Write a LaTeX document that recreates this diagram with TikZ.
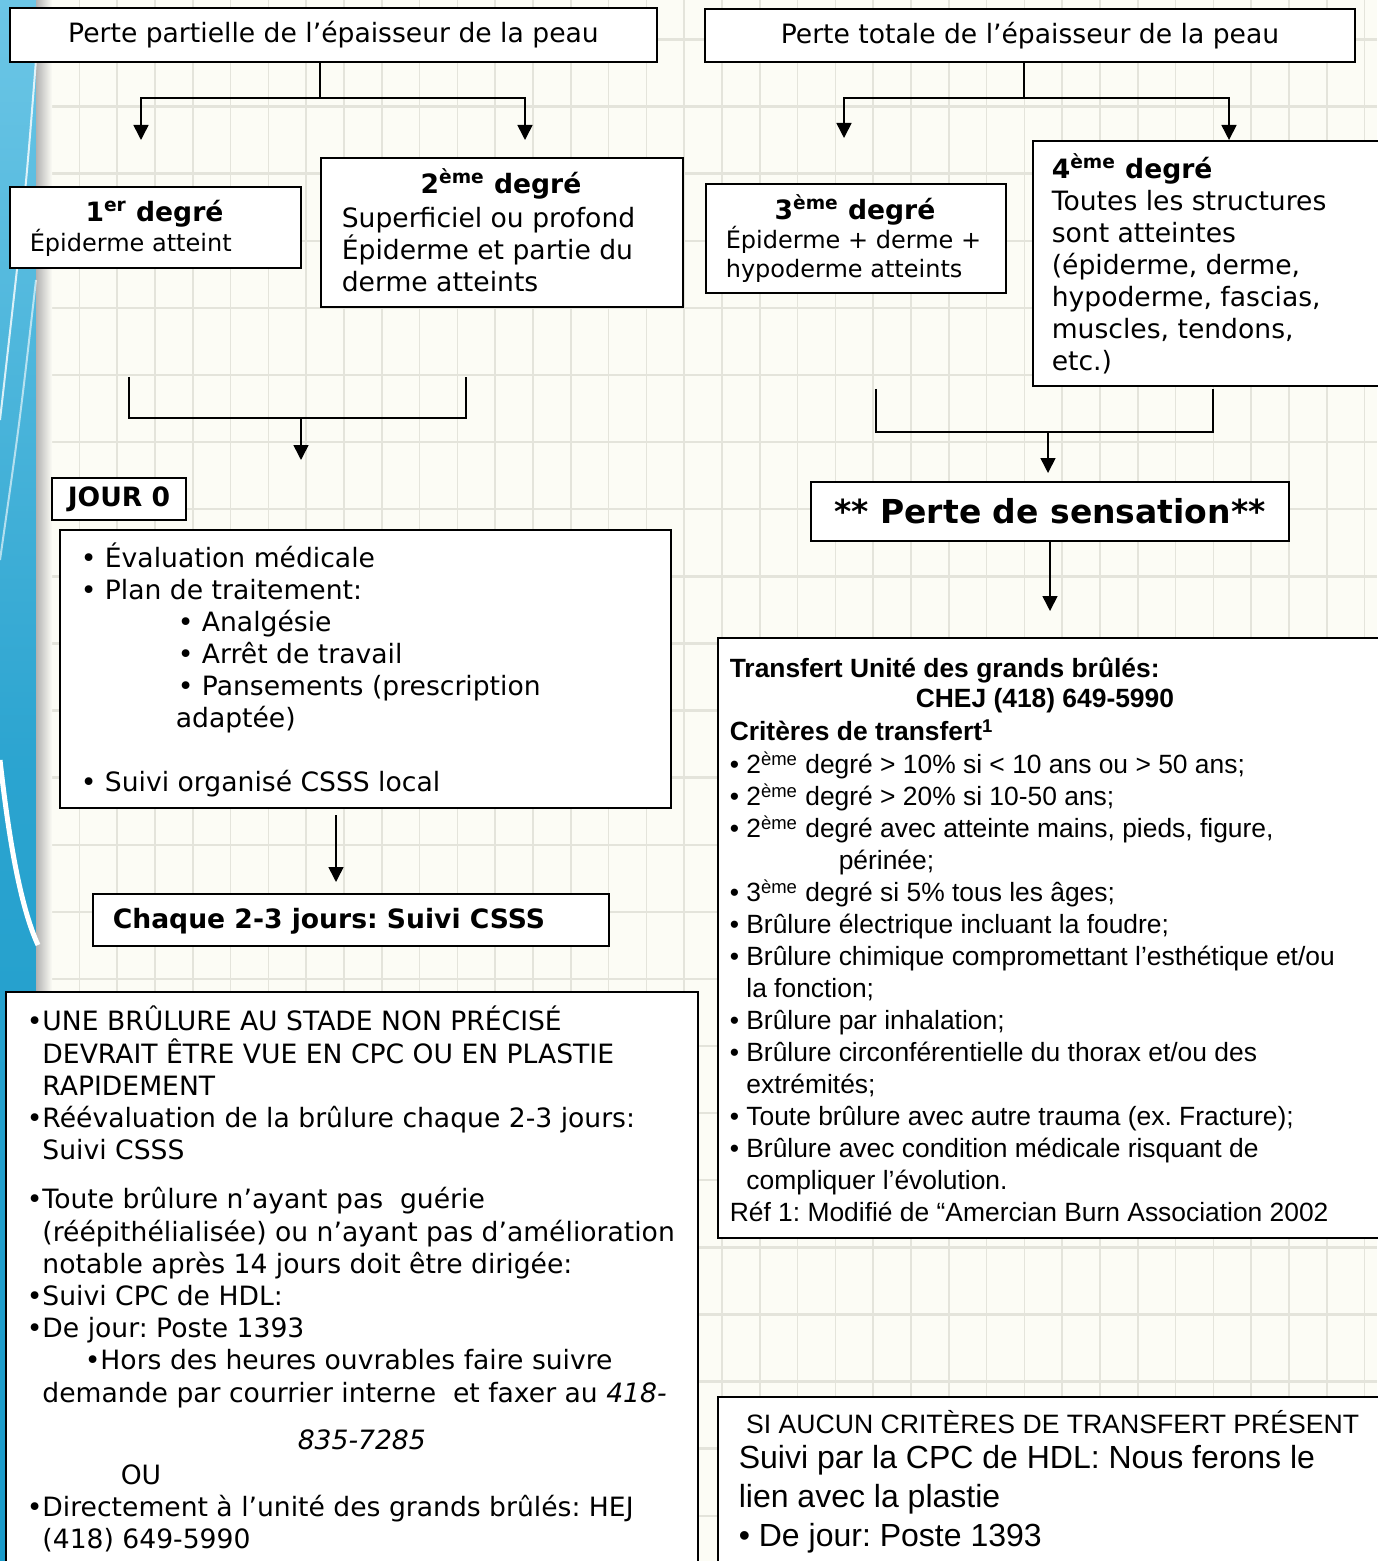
\documentclass[tikz,border=0pt]{standalone}
\usepackage{fontspec}
\setmainfont{DejaVu Sans}
\newfontfamily\arialfont{Liberation Sans}
\usetikzlibrary{arrows.meta}
\definecolor{papier}{HTML}{FCFCF5}
\definecolor{grille}{HTML}{E4E4DB}
\definecolor{bleu}{HTML}{1A9BCA}
\definecolor{bleuclair}{HTML}{6CC6E6}
\frenchspacing

\begin{document}
\begin{tikzpicture}[x=0.5pt, y=-0.5pt, >={Triangle[width=7.5pt,length=7.5pt]}, line width=0.8pt,
  boite/.style={draw, line width=1pt, fill=white, inner sep=0pt, anchor=north west},
  texte/.style={inner sep=0pt, anchor=north west, align=left},
  verd/.style={font=\fontsize{13.3}{16}\selectfont},
  verdp/.style={font=\fontsize{12}{14.5}\selectfont},
  ari/.style={font=\arialfont\fontsize{13.2}{16}\selectfont}]
\useasboundingbox (0,0) rectangle (1377,1561);
\fill[papier] (0,0) rectangle (1377,1561);
\foreach \i in {0,...,36}
  \draw[grille, line width=0.8pt] (3.8+37.8*\i,0) -- (3.8+37.8*\i,1561);
\foreach \j in {0,...,23}
  \draw[grille, line width=1.2pt] (0,39.5+67.1*\j) -- (1377,39.5+67.1*\j);
\shade[top color=bleuclair, bottom color=bleu, middle color=bleu!80!bleuclair] (0,0) rectangle (36,1561);
\shade[left color=black!30, right color=papier] (36,0) rectangle (52,1561);
\draw[white, line width=1pt, opacity=0.8] (36,60) .. controls (25,200) .. (0,420);
\draw[white, line width=1pt, opacity=0.6] (36,280) .. controls (20,420) .. (0,560);
\draw[white, line width=2.5pt] (0,760) .. controls (10,850) and (22,910) .. (38,945);

\node[boite, verd, minimum width=323.5pt, minimum height=27pt] (titreG) at (9,7) {Perte partielle de l’épaisseur de la peau};
\node[boite, minimum width=145.5pt, minimum height=40.5pt] (deg1) at (9,186) {};
\node[verd, inner sep=0pt, anchor=base] (deg1titre) at (154.5,222) {\textbf{1\textsuperscript{er} degré}};
\node[verdp, inner sep=0pt, anchor=base west] (deg1texte) at (29,252) {Épiderme atteint};
\node[boite, minimum width=181pt, minimum height=74.5pt] (deg2) at (320,157) {};
\node[verd, inner sep=0pt, anchor=base] (deg2titre) at (501,194) {\textbf{2\textsuperscript{ème} degré}};
\node[texte, verd] (deg2texte) at (341,201) {\rule{0pt}{13pt}Superficiel ou profond\\Épiderme et partie du\\derme atteints};
\node[boite, verd, minimum width=67pt, minimum height=21pt] (jour) at (51,477) {\textbf{JOUR 0}};
\node[boite, minimum width=305.5pt, minimum height=139pt] (jourliste) at (59,529) {};
\node[texte, verd] (jourtexte) at (80,541) {\rule{0pt}{13pt}• Évaluation médicale\\
  • Plan de traitement:\\
  \hspace*{48.5pt}• Analgésie\\
  \hspace*{48.5pt}• Arrêt de travail\\
  \hspace*{48.5pt}• Pansements (prescription\\
  \hspace*{47.5pt}adaptée)\\[16pt]
  • Suivi organisé CSSS local};
\node[boite, minimum width=258pt, minimum height=26pt] (suivi) at (92,893) {};
\node[verd, inner sep=0pt, anchor=base west] (suivitexte) at (112,928) {\textbf{Chaque 2-3 jours: Suivi CSSS}};
\node[boite, minimum width=346pt, minimum height=300pt] (noteG) at (5,991) {};
\node[texte, font=\fontsize{13.3}{16.1}\selectfont] (noteGtexte) at (26,1004) {\rule{0pt}{13pt}•UNE BRÛLURE AU STADE NON PRÉCISÉ\\
  \phantom{•}DEVRAIT ÊTRE VUE EN CPC OU EN PLASTIE\\
  \phantom{•}RAPIDEMENT\\
  •Réévaluation de la brûlure chaque 2-3 jours:\\
  \phantom{•}Suivi CSSS\\[8.5pt]
  •Toute brûlure n’ayant pas\ \ guérie\\
  \phantom{•}(réépithélialisée) ou n’ayant pas d’amélioration\\
  \phantom{•}notable après 14 jours doit être dirigée:\\
  •Suivi CPC de HDL:\\
  •De jour: Poste 1393\\
  \hspace*{29pt}•Hors des heures ouvrables faire suivre\\
  \phantom{•}demande par courrier interne\ \ et faxer au \textit{418-}\\[7.5pt]
  \hspace*{135.5pt}\textit{835-7285}\\[1.5pt]
  \hspace*{47pt}OU\\
  •Directement à l’unité des grands brûlés: HEJ\\
  \phantom{•}(418) 649-5990};

\node[boite, verd, minimum width=325pt, minimum height=26.5pt] (titreD) at (704,8) {Perte totale de l’épaisseur de la peau};
\node[boite, minimum width=150pt, minimum height=54.5pt] (deg3) at (705,183) {};
\node[verd, inner sep=0pt, anchor=base] (deg3titre) at (855,220) {\textbf{3\textsuperscript{ème} degré}};
\node[texte, verdp] (deg3texte) at (725,222) {\rule{0pt}{13pt}Épiderme + derme +\\hypoderme atteints};
\node[boite, minimum width=180pt, minimum height=122.5pt] (deg4) at (1032,140) {};
\node[texte, verd] (deg4texte) at (1051,152) {\rule{0pt}{13pt}\textbf{4\textsuperscript{ème} degré}\\Toutes les structures\\sont atteintes\\(épiderme, derme,\\hypoderme, fascias,\\muscles, tendons,\\etc.)};
\node[boite, minimum width=239pt, minimum height=29.5pt, font=\fontsize{16.5}{20}\selectfont] (sensation) at (810,481) {\textbf{** Perte de sensation**}};
\node[boite, minimum width=337.5pt, minimum height=300pt] (transfert) at (717,637) {};
\node[texte, ari] (transferttexte) at (729,651) {\rule{0pt}{13pt}\textbf{Transfert Unité des grands brûlés:}\\[-1pt]
  \hspace*{93pt}\textbf{CHEJ (418) 649-5990}\\[0.5pt]
  \textbf{Critères de transfert\textsuperscript{1}}\\[0.5pt]
  • 2\textsuperscript{ème} degré > 10\% si < 10 ans ou > 50 ans;\\
  • 2\textsuperscript{ème} degré > 20\% si 10-50 ans;\\
  • 2\textsuperscript{ème} degré avec atteinte mains, pieds, figure,\\
  \hspace*{54.5pt}périnée;\\
  • 3\textsuperscript{ème} degré si 5\% tous les âges;\\
  • Brûlure électrique incluant la foudre;\\
  • Brûlure chimique compromettant l’esthétique et/ou\\
  \phantom{• }la fonction;\\
  • Brûlure par inhalation;\\
  • Brûlure circonférentielle du thorax et/ou des\\
  \phantom{• }extrémités;\\
  • Toute brûlure avec autre trauma (ex. Fracture);\\
  • Brûlure avec condition médicale risquant de\\
  \phantom{• }compliquer l’évolution.\\
  Réf 1: Modifié de “Amercian Burn Association 2002};
\node[boite, minimum width=337.5pt, minimum height=100pt] (noteD) at (717,1396) {};
\node[texte, font=\arialfont\fontsize{16}{19.5}\selectfont] (noteDtexte) at (738,1407) {{\fontsize{13.3}{16}\selectfont\rule{0pt}{13pt}\ SI AUCUN CRITÈRES DE TRANSFERT PRÉSENT}\\[-2pt]
  Suivi par la CPC de HDL: Nous ferons le\\
  lien avec la plastie\\
  • De jour: Poste 1393};

\coordinate (jG) at (320,98);
\coordinate (fG1) at (141,140);
\coordinate (fG2) at (525,140);
\draw (titreG.south -| jG) -- (jG);
\draw[->] (jG) -| (fG1);
\draw[->] (jG) -| (fG2);
\coordinate (mG1) at (129,377);
\coordinate (mG2) at (466,377);
\coordinate (mG) at (301,418);
\coordinate (fG3) at (301,460);
\draw (mG1) |- (mG) -| (mG2);
\draw[->] (mG) -- (fG3);
\coordinate (aJ) at (336,850);
\draw[->, shorten <=3pt, shorten >=5.5pt] (jourliste.south -| aJ) -- (suivi.north -| aJ);

\coordinate (jD) at (1024,98);
\coordinate (fD1) at (844,138);
\coordinate (fD2) at (1229,140);
\draw (titreD.south -| jD) -- (jD);
\draw[->] (jD) -| (fD1);
\draw[->] (jD) -| (fD2);
\coordinate (mD1) at (876,389);
\coordinate (mD2) at (1213,389);
\coordinate (mD) at (1048,432);
\draw (mD1) |- (mD) -| (mD2);
\draw[->, shorten >=4pt] (mD) -- (sensation.north -| mD);
\draw[->, shorten >=13pt] (sensation.south) -- (sensation.south |- transfert.north);
\end{tikzpicture}
\end{document}
